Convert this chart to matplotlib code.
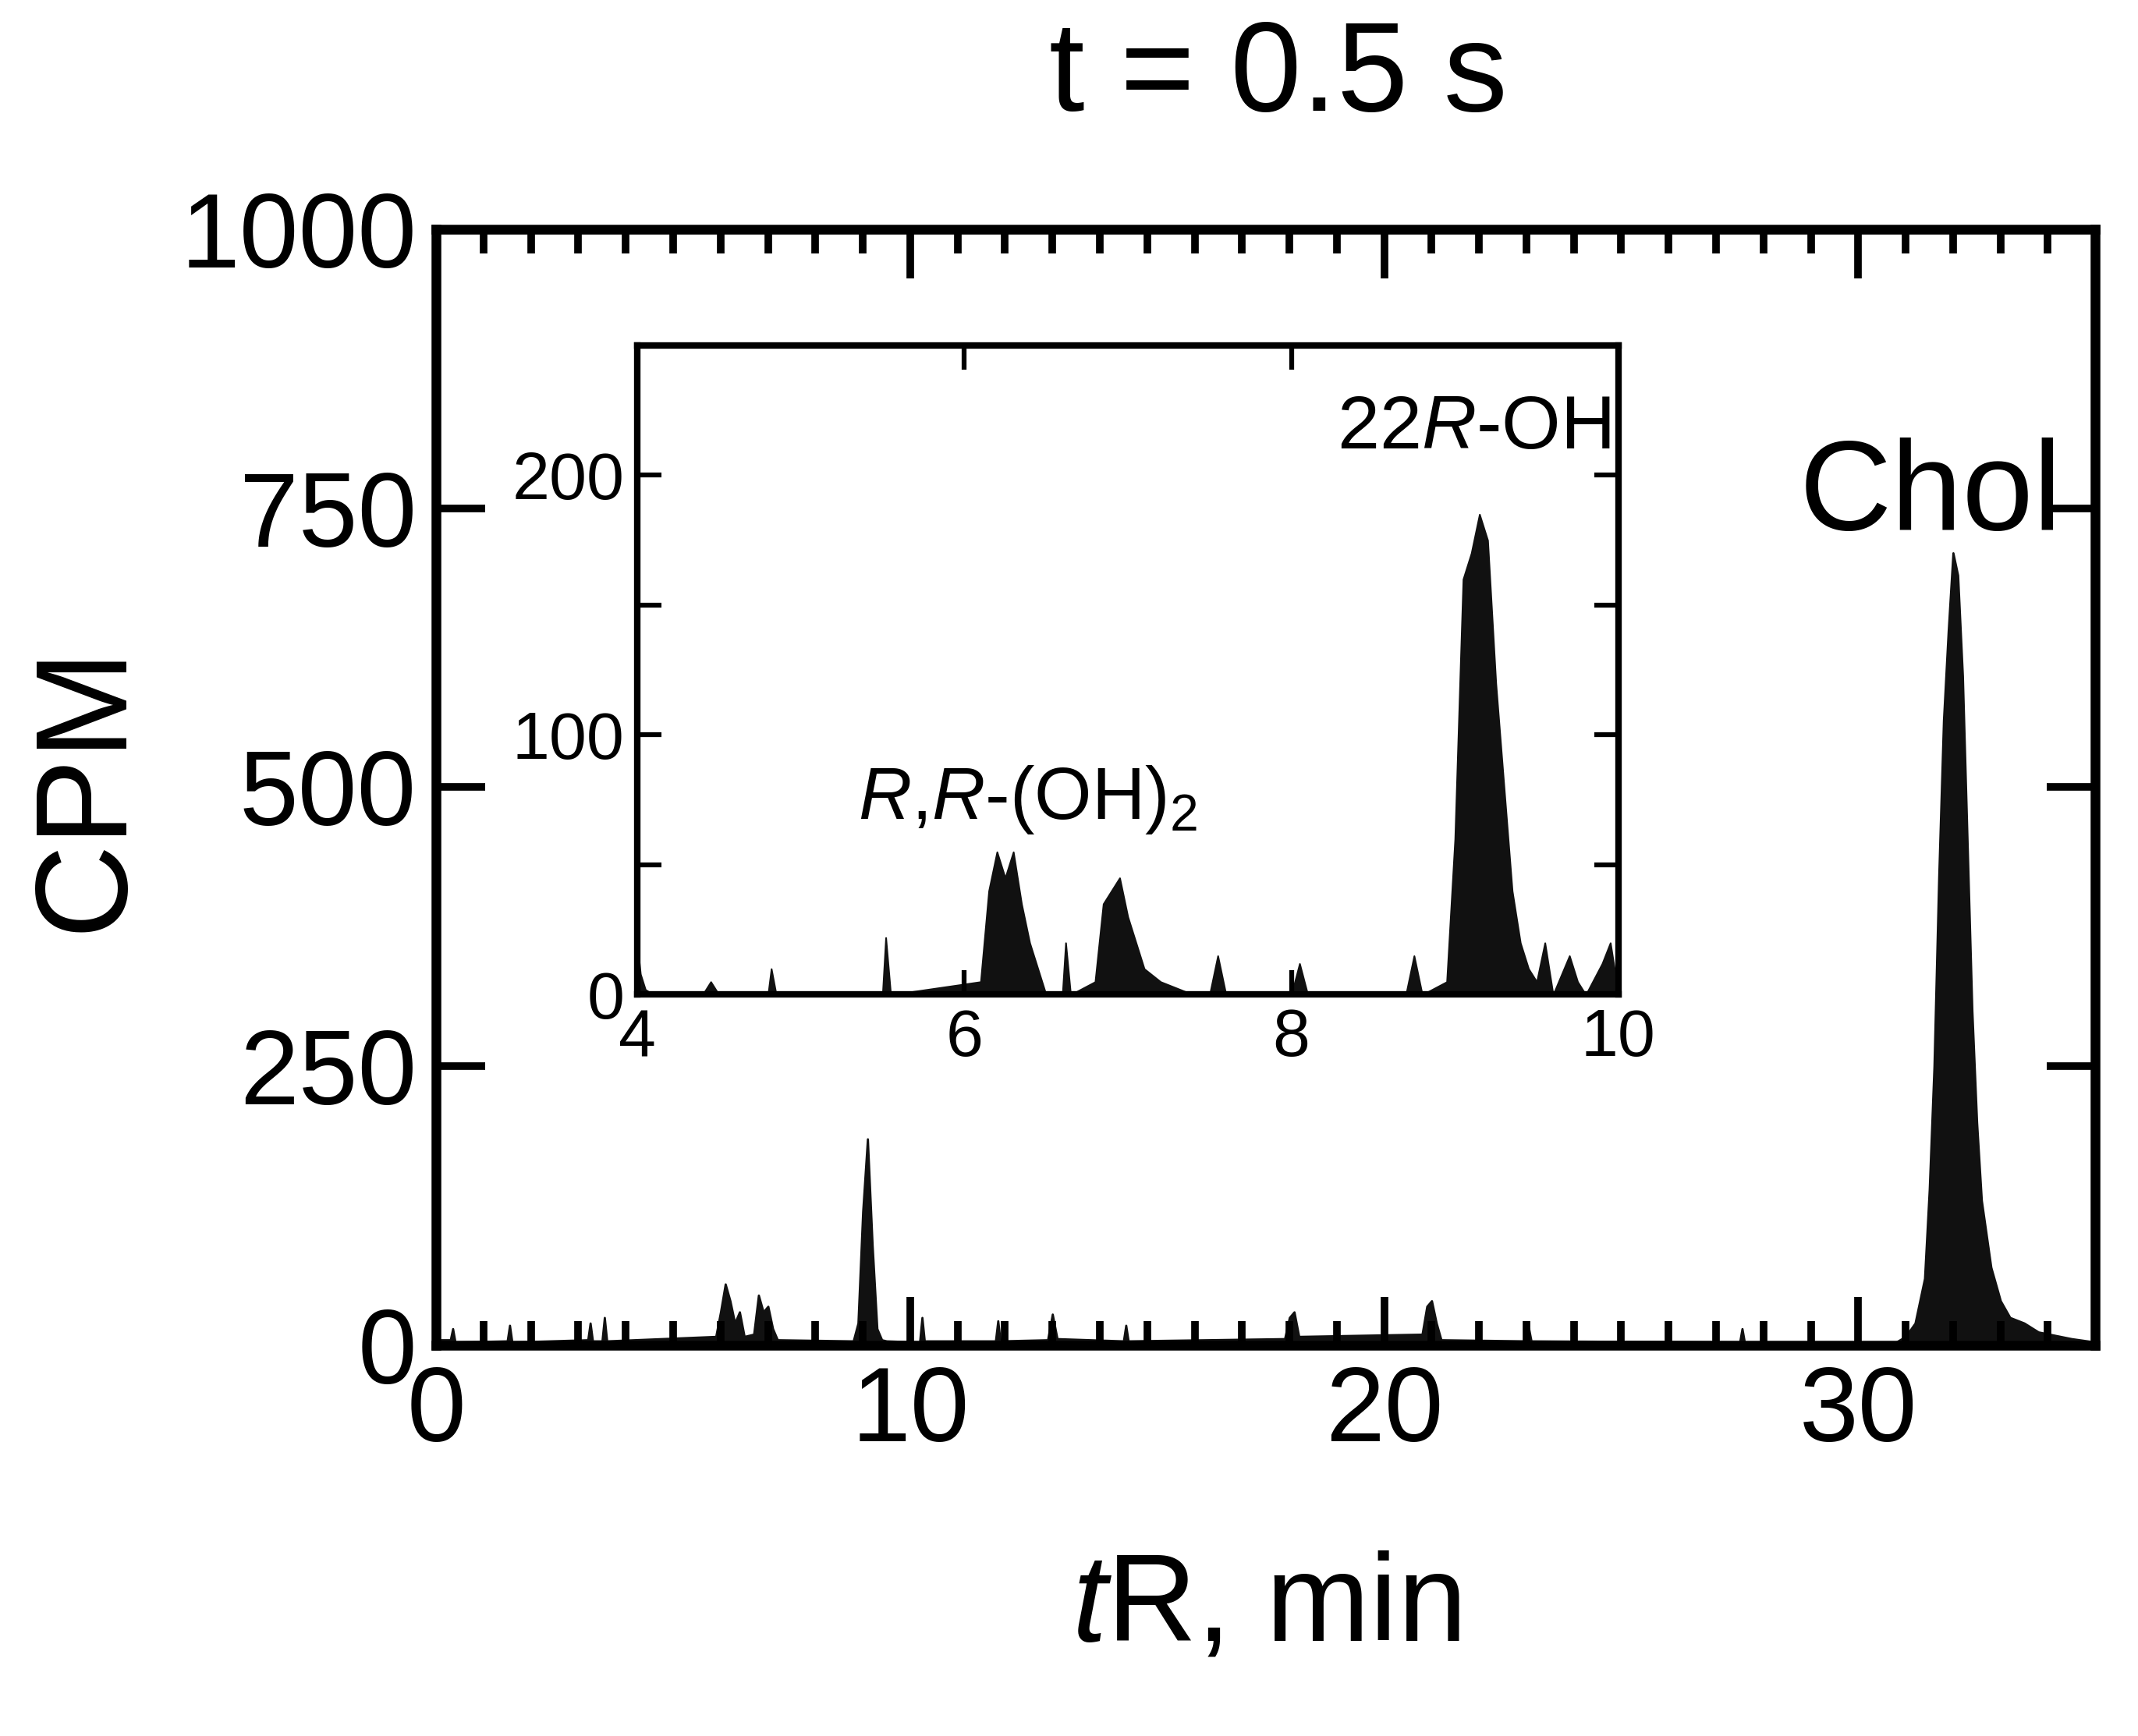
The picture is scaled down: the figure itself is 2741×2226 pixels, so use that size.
import numpy as np
import matplotlib.pyplot as plt
from matplotlib.ticker import MultipleLocator

plt.rcParams['font.family'] = ['Liberation Sans', 'DejaVu Sans']
plt.rcParams['mathtext.fontset'] = 'custom'
plt.rcParams['mathtext.it'] = 'Liberation Sans:italic'
plt.rcParams['mathtext.rm'] = 'Liberation Sans'

# main chromatogram outline (min, CPM)
main_t = [0.0, 0.3, 0.35, 0.4, 1.5, 1.55, 1.6, 3.2, 3.25, 3.3, 3.5, 3.55, 3.6,
          5.9, 6.0, 6.1, 6.2, 6.3, 6.4, 6.5, 6.7, 6.8, 6.9, 7.0, 7.1, 7.2,
          8.8, 8.9, 9.0, 9.1, 9.2, 9.3, 9.4, 9.5, 10.2, 10.25, 10.3,
          11.8, 11.85, 11.9, 12.9, 13.0, 13.1, 14.5, 14.55, 14.6,
          17.9, 18.0, 18.1, 18.2, 20.8, 20.9, 21.0, 21.1, 21.2,
          23.0, 23.05, 23.1, 27.5, 27.55, 27.6,
          30.8, 31.0, 31.2, 31.4, 31.5, 31.6, 31.7, 31.8, 31.9, 32.0, 32.1,
          32.2, 32.3, 32.4, 32.5, 32.6, 32.8, 33.0, 33.2, 33.5, 33.8, 34.5, 35.0]
main_cpm = [5, 5, 15, 3, 4, 18, 3, 5, 20, 4, 4, 25, 4,
            8, 30, 55, 40, 20, 30, 8, 10, 45, 30, 35, 15, 5,
            4, 20, 120, 185, 90, 15, 5, 4, 3, 25, 4,
            4, 22, 4, 5, 28, 6, 4, 18, 4,
            6, 25, 30, 8, 10, 35, 40, 20, 5,
            4, 15, 4, 3, 15, 3,
            3, 8, 20, 60, 140, 250, 420, 560, 640, 710, 690,
            600, 450, 300, 200, 130, 70, 40, 25, 20, 12, 6, 3]

# inset outline (min, CPM)
ins_t = [4.0, 4.02, 4.05, 4.1, 4.4, 4.45, 4.5, 4.8, 4.82, 4.85, 5.5, 5.52, 5.55,
         6.1, 6.15, 6.2, 6.25, 6.3, 6.35, 6.4, 6.45, 6.5, 6.6, 6.62, 6.65,
         6.8, 6.85, 6.9, 6.95, 7.0, 7.05, 7.1, 7.2, 7.4, 7.5, 7.55, 7.6,
         8.0, 8.05, 8.1, 8.7, 8.75, 8.8,
         8.95, 9.0, 9.05, 9.1, 9.15, 9.2, 9.25, 9.3, 9.35, 9.4, 9.45,
         9.5, 9.55, 9.6, 9.7, 9.75, 9.8, 9.9, 9.95, 10.0]
ins_cpm = [20, 8, 2, 0, 0, 5, 0, 0, 10, 0, 0, 22, 0,
           5, 40, 55, 45, 55, 35, 20, 10, 0, 0, 20, 0,
           5, 35, 40, 45, 30, 20, 10, 5, 0, 0, 15, 0,
           0, 12, 0, 0, 15, 0,
           5, 60, 160, 170, 185, 175, 120, 80, 40, 20, 10,
           5, 20, 0, 15, 5, 0, 12, 20, 0]

fig = plt.figure(figsize=(27.41, 22.26), dpi=100)
ax = fig.add_axes([0.204, 0.225, 0.776, 0.643])
ax.fill_between(main_t, main_cpm, color='#111111', lw=2)
ax.set_xlim(0, 35)
ax.set_ylim(0, 1000)
ax.xaxis.set_major_locator(MultipleLocator(10))
ax.xaxis.set_minor_locator(MultipleLocator(1))
ax.yaxis.set_major_locator(MultipleLocator(250))
ax.tick_params(which='both', direction='in', top=True, right=True, width=7)
ax.tick_params(which='major', length=45, labelsize=98, pad=18)
ax.tick_params(which='minor', length=22)
for s in ax.spines.values():
    s.set_linewidth(9)
ax.set_ylabel('CPM', fontsize=120, labelpad=30)
ax.set_xlabel(r'$t$R, min', fontsize=115, labelpad=80)
fig.text(0.598, 0.955, 't = 0.5 s', fontsize=118, ha='center', va='center')
ax.text(34.3, 760, 'Chol', fontsize=118, ha='right', va='center')

ins = fig.add_axes([0.298, 0.427, 0.459, 0.374])
ins.fill_between(ins_t, ins_cpm, color='#111111', lw=1.5)
ins.set_xlim(4, 10)
ins.set_ylim(0, 250)
ins.xaxis.set_major_locator(MultipleLocator(2))
ins.yaxis.set_major_locator(MultipleLocator(100))
ins.yaxis.set_minor_locator(MultipleLocator(50))
ins.tick_params(which='both', direction='in', top=True, right=True, width=4.5)
ins.tick_params(which='major', length=22, labelsize=62, pad=12)
ins.tick_params(which='minor', length=22)
for s in ins.spines.values():
    s.set_linewidth(6)
ins.text(9.95, 218, r'$22R$-OH', fontsize=70, ha='right', va='center')
ins.text(5.35, 75, r'$R$,$R$-(OH)$_2$', fontsize=68, ha='left', va='center')

fig.savefig('out.png', dpi=100)
